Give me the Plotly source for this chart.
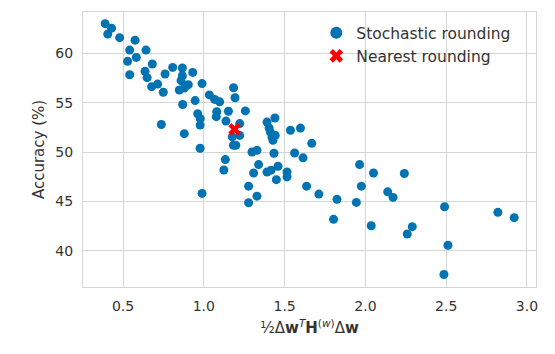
import plotly.graph_objects as go

# Stochastic rounding runs: (quadratic term, accuracy %)
stoch_x = [0.389, 0.429, 0.405, 0.479, 0.574, 0.541, 0.642, 0.582, 0.528, 0.541,
           0.681, 0.636, 0.649, 0.677, 0.714, 0.749, 0.760, 0.807, 0.867, 0.867,
           0.859, 0.931, 0.904, 0.879, 0.848, 0.989, 1.034, 1.067, 1.098, 1.184,
           1.193, 0.869, 0.946, 1.080, 1.152, 0.962, 0.978, 0.977, 1.077, 1.137,
           0.737, 0.879, 0.977, 1.176, 1.183, 1.257, 1.222, 1.222, 1.198, 1.133,
           1.124, 0.989, 1.391, 1.440, 1.404, 1.412, 1.422, 1.442, 1.428, 1.536,
           1.598, 1.668, 1.298, 1.329, 1.434, 1.562, 1.614, 1.339, 1.308, 1.391,
           1.416, 1.459, 1.449, 1.515, 1.515, 1.277, 1.329, 1.277, 1.636, 1.712,
           1.824, 1.803, 1.944, 1.964, 1.975, 2.050, 2.036, 2.241, 2.138, 2.171,
           2.490, 2.820, 2.921, 2.290, 2.259, 2.511, 2.486]
stoch_y = [63.02, 62.56, 61.96, 61.60, 61.35, 60.34, 60.34, 59.60, 59.20, 57.85,
           58.93, 58.19, 57.55, 56.64, 56.90, 56.07, 57.92, 58.59, 58.53, 57.75,
           57.25, 58.08, 56.84, 56.50, 56.30, 56.95, 55.80, 55.35, 55.10, 56.53,
           55.52, 54.83, 55.23, 54.10, 54.15, 53.90, 53.40, 52.75, 53.60, 53.15,
           52.81, 51.88, 50.40, 51.55, 50.70, 54.18, 52.90, 51.70, 50.70, 49.25,
           48.20, 45.83, 53.05, 53.47, 52.45, 52.04, 51.53, 51.70, 51.20, 52.22,
           52.44, 50.90, 50.02, 50.19, 49.90, 49.92, 49.43, 48.75, 47.90, 48.00,
           48.18, 48.58, 47.22, 48.00, 47.50, 46.56, 45.55, 44.88, 46.56, 45.76,
           45.23, 43.20, 44.92, 48.75, 46.56, 47.90, 42.55, 47.84, 45.99, 45.42,
           44.48, 43.91, 43.37, 42.46, 41.72, 40.58, 37.62]

# Nearest rounding
near_x = [1.19]
near_y = [52.32]

x_ticks = [0.5, 1.0, 1.5, 2.0, 2.5, 3.0]
y_ticks = [40, 45, 50, 55, 60]

BLUE = "#0173b2"
RED = "#ff0000"
GRID = "#d5d5d5"
TXT = "#333333"
FONT = "DejaVu Sans"

fig = go.Figure()
fig.add_trace(go.Scatter(
    x=stoch_x, y=stoch_y, mode="markers", name="Stochastic rounding",
    marker=dict(color=BLUE, size=9, line=dict(width=0)),
))
fig.add_trace(go.Scatter(
    x=near_x, y=near_y, mode="markers", name="Nearest rounding",
    marker=dict(color=RED, size=11, symbol="x", line=dict(width=0)),
))

fig.update_layout(
    width=555, height=354,
    margin=dict(l=82.7, r=19.3, t=11.5, b=67.3),
    paper_bgcolor="white", plot_bgcolor="white",
    font=dict(family=FONT, size=14, color=TXT),
    showlegend=True,
    legend=dict(
        x=0.515, y=0.985, xanchor="left", yanchor="top",
        bgcolor="rgba(0,0,0,0)", borderwidth=0,
        font=dict(family=FONT, size=15.5, color=TXT),
        itemsizing="constant", tracegroupgap=0,
    ),
    xaxis=dict(
        range=[0.252, 3.056], tickvals=x_ticks,
        ticktext=[f"{v:.1f}" for v in x_ticks],
        showgrid=True, gridcolor=GRID, gridwidth=1.3,
        showline=True, linecolor=GRID, linewidth=1.3, mirror=True,
        zeroline=False, ticks="outside", ticklen=6, tickcolor="rgba(0,0,0,0)",
        tickfont=dict(family=FONT, size=14, color=TXT),
        title=dict(
            text="½Δ<b>w</b><sup><i>T</i></sup><b>H</b><sup>(<i>w</i>)</sup>Δ<b>w</b>",
            font=dict(family=FONT, size=15, color=TXT), standoff=9,
        ),
    ),
    yaxis=dict(
        range=[36.35, 64.2], tickvals=y_ticks,
        showgrid=True, gridcolor=GRID, gridwidth=1.3,
        showline=True, linecolor=GRID, linewidth=1.3, mirror=True,
        zeroline=False, ticks="outside", ticklen=6, tickcolor="rgba(0,0,0,0)",
        tickfont=dict(family=FONT, size=14, color=TXT),
        title=dict(text="Accuracy (%)", font=dict(family=FONT, size=15, color=TXT), standoff=6),
    ),
)

fig.write_html("out.html")
